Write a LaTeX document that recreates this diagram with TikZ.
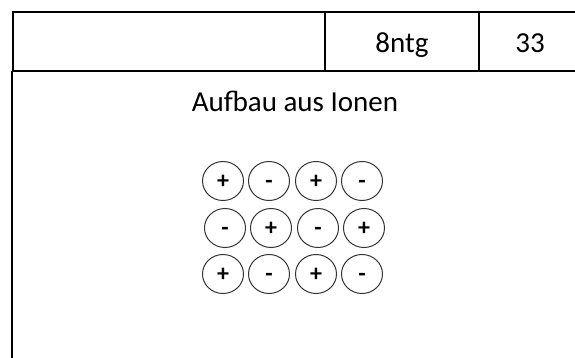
\documentclass[tikz,border=0pt]{standalone}
\usepackage{fontspec}
\setmainfont{Carlito}
\usetikzlibrary{shapes.geometric}
\begin{document}
\begin{tikzpicture}[x=1pt,y=-1pt,
  frame/.style={draw=black,line width=1.5pt},
  ion/.style={ellipse,draw=black!80,line width=1pt,minimum width=41pt,minimum height=39pt,inner sep=0pt,
    text height=15pt,text depth=0pt,font=\fontsize{24}{24}\selectfont\bfseries},
  celltext/.style={font=\fontsize{29}{29}\selectfont,anchor=base}]
  \useasboundingbox (0,0) rectangle (575,358);
  % header row
  \draw[frame] (586,12) -- (13,12) -- (13,71) -- (586,71);
  \draw[frame] (325,12) -- (325,71);
  \draw[frame] (479,12) -- (479,71);
  % body panel
  \draw[frame] (12,71) -- (12,360);
  \node[celltext] (code) at (402,53) {8ntg};
  \node[celltext] (num) at (530,53) {33};
  \node[celltext] (title) at (295,112) {Aufbau aus Ionen};
  % ion lattice
  \node[ion] (a1) at (223,181) {+};
  \node[ion] (a2) at (269,181) {-};
  \node[ion] (a3) at (316,181) {+};
  \node[ion] (a4) at (362,181) {-};
  \node[ion] (b1) at (225,228) {-};
  \node[ion] (b2) at (271,228) {+};
  \node[ion] (b3) at (318,228) {-};
  \node[ion] (b4) at (364,228) {+};
  \node[ion] (c1) at (223,274) {+};
  \node[ion] (c2) at (269,274) {-};
  \node[ion] (c3) at (316,274) {+};
  \node[ion] (c4) at (362,274) {-};
\end{tikzpicture}
\end{document}
